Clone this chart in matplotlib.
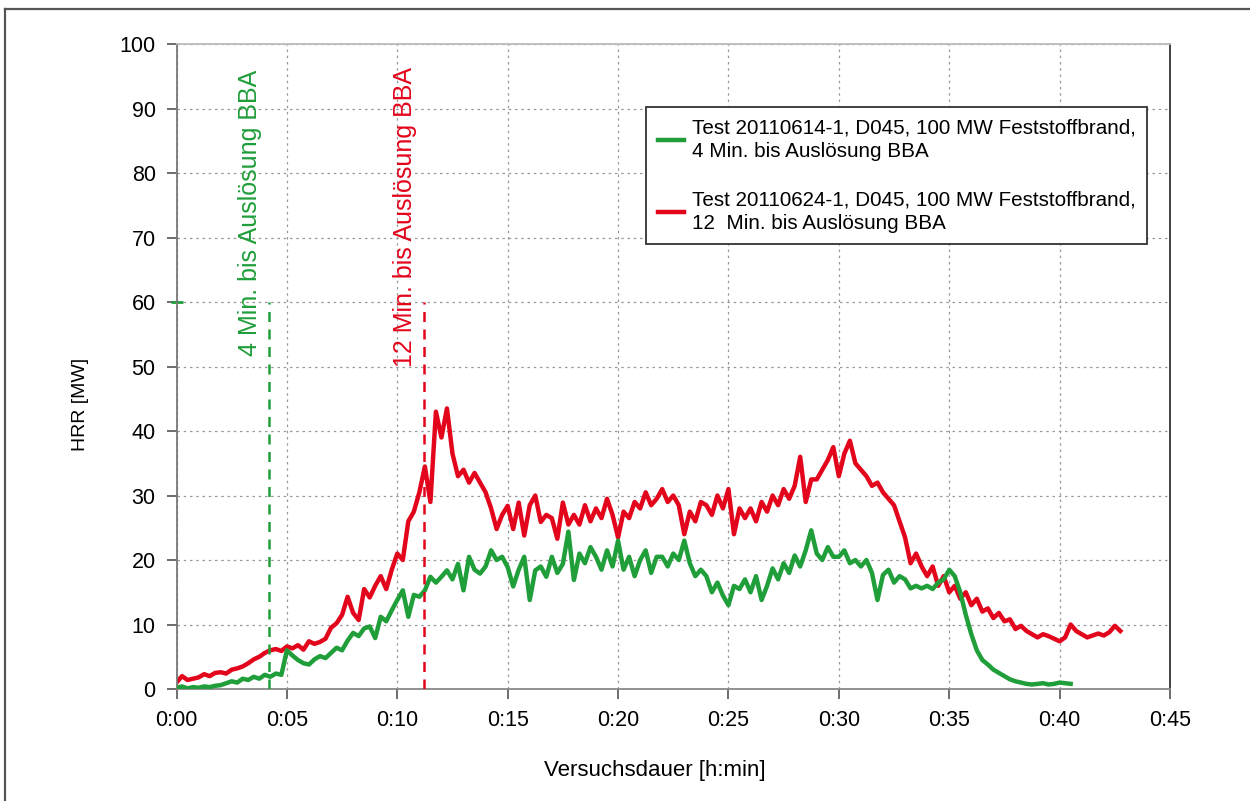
import numpy as np
import matplotlib
matplotlib.use("Agg")
import matplotlib.pyplot as plt
from matplotlib.ticker import FuncFormatter, MultipleLocator
from matplotlib.lines import Line2D

plt.rcParams["font.family"] = ["Liberation Sans", "DejaVu Sans"]

STEP_MIN = 0.25

hrr_red = [
    1.0, 2.0, 1.4, 1.6,
    1.8, 2.3, 2.0, 2.5,
    2.6, 2.4, 3.0, 3.2,
    3.5, 4.0, 4.6, 5.0,
    5.6, 6.0, 6.2, 5.9,
    6.6, 6.3, 6.8, 6.1,
    7.4, 7.0, 7.3, 7.8,
    9.5, 10.2, 11.5, 14.3,
    11.8, 10.7, 15.5, 14.2,
    16.0, 17.5, 15.5, 18.5,
    21.0, 20.0, 26.0, 27.5,
    30.5, 34.5, 29.0, 43.0,
    39.0, 43.5, 36.5, 33.0,
    34.0, 32.0, 33.5, 32.0,
    30.5, 28.0, 24.8, 27.0,
    28.4, 24.8, 28.9, 23.8,
    28.5, 30.0, 25.9, 27.0,
    26.5, 23.3, 28.9, 25.5,
    27.0, 25.5, 28.5, 26.0,
    28.0, 26.5, 29.5, 27.0,
    23.5, 27.5, 26.5, 29.0,
    28.0, 30.5, 28.5, 29.5,
    31.0, 29.0, 30.0, 28.5,
    24.0, 27.5, 26.0, 29.0,
    28.5, 27.0, 30.0, 28.0,
    31.0, 24.0, 28.0, 26.5,
    28.0, 26.0, 29.0, 27.5,
    30.0, 28.5, 31.0, 29.5,
    31.5, 36.0, 29.0, 32.5,
    32.5, 34.0, 35.5, 37.5,
    33.0, 36.5, 38.5, 35.0,
    34.0, 33.0, 31.5, 32.0,
    30.5, 29.5, 28.5, 26.0,
    23.5, 19.5, 21.0, 19.0,
    17.5, 19.0, 16.0, 17.5,
    15.0, 16.0, 14.0, 15.0,
    13.0, 14.0, 12.0, 12.5,
    11.0, 11.8, 10.5, 10.8,
    9.3, 9.8, 9.0, 8.5,
    8.0, 8.5, 8.2, 7.8,
    7.4, 8.0, 10.0, 9.0,
    8.5, 8.0, 8.3, 8.6,
    8.3, 8.8, 9.8, 9.0,
]

hrr_green = [
    0.2, 0.4, 0.1, 0.3,
    0.2, 0.4, 0.3, 0.5,
    0.6, 0.9, 1.2, 1.0,
    1.6, 1.4, 1.9, 1.6,
    2.2, 1.9, 2.4, 2.2,
    6.0, 5.2, 4.5, 4.0,
    3.8, 4.6, 5.1, 4.8,
    5.6, 6.4, 6.0, 7.5,
    8.7, 8.2, 9.4, 9.7,
    7.9, 11.2, 10.5, 12.2,
    13.8, 15.3, 11.2, 14.6,
    14.3, 15.3, 17.4, 16.5,
    17.4, 18.4, 17.0, 19.4,
    15.3, 20.5, 18.5, 17.9,
    19.0, 21.5, 20.0, 20.5,
    18.9, 15.9, 18.5, 20.5,
    13.8, 18.4, 19.0, 17.4,
    20.5, 18.0, 19.4, 24.4,
    16.9, 21.0, 19.5, 22.0,
    20.5, 18.5, 21.5, 19.0,
    23.0, 18.5, 20.5, 17.5,
    20.0, 21.5, 18.0, 20.5,
    20.5, 19.0, 21.0, 20.0,
    23.0, 19.5, 17.5, 18.5,
    17.5, 15.0, 16.5, 14.5,
    13.0, 16.0, 15.5, 17.0,
    15.0, 17.5, 13.8, 16.0,
    18.7, 17.0, 19.5, 18.0,
    20.7, 19.0, 21.5, 24.6,
    21.0, 20.0, 22.0, 20.5,
    20.5, 21.5, 19.5, 20.0,
    19.0, 20.0, 18.0, 13.8,
    17.7, 18.5, 16.5, 17.5,
    17.0, 15.6, 16.0, 15.6,
    16.0, 15.5, 16.5, 17.0,
    18.5, 17.5, 15.0, 11.5,
    8.5, 6.0, 4.5, 3.8,
    3.0, 2.5, 2.0, 1.5,
    1.2, 1.0, 0.8, 0.7,
    0.8, 0.9, 0.7, 0.8,
    1.0, 0.9, 0.8,
]

labels = [
    "Test 20110614-1, D045, 100 MW Feststoffbrand,\n4 Min. bis Auslösung BBA",
    "Test 20110624-1, D045, 100 MW Feststoffbrand,\n12  Min. bis Auslösung BBA",
]
trigger_min = [4.2, 11.22]
trigger_text = ["4 Min. bis Auslösung BBA", "12 Min. bis Auslösung BBA"]

GREEN = "#1f9e3a"
RED = "#e3051b"

t_red = np.arange(len(hrr_red)) * STEP_MIN
t_green = np.arange(len(hrr_green)) * STEP_MIN

fig = plt.figure(figsize=(12.5, 8.01), dpi=100)
ax = fig.add_axes([0.1412, 0.1398, 0.7948, 0.8052])

# outer frame (left and top edge only)
fig.add_artist(Line2D([0.004, 0.004], [0.0, 0.989], transform=fig.transFigure,
                      color="#555555", lw=1.6))
fig.add_artist(Line2D([0.004, 1.0], [0.989, 0.989], transform=fig.transFigure,
                      color="#555555", lw=1.6))

ax.plot(t_green, hrr_green, color=GREEN, lw=3.2, label=labels[0], zorder=3)
ax.plot(t_red, hrr_red, color=RED, lw=3.2, label=labels[1], zorder=2)

# trigger markers
text_pos = [(3.33, 51.6), (10.35, 50.0)]
for tm, txt, col, (tx, ty) in zip(trigger_min, trigger_text, [GREEN, RED], text_pos):
    ax.plot([tm, tm], [0, 60], color=col, lw=1.8, ls=(0, (4, 3)), zorder=4)
    ax.text(tx, ty, txt, rotation=90, color=col, fontsize=18,
            ha="center", va="bottom")
ax.plot([0], [60], marker="_", ms=9, mew=2, color=GREEN, clip_on=False)

ax.set_xlim(0, 45)
ax.set_ylim(0, 100)
ax.xaxis.set_major_locator(MultipleLocator(5))
ax.yaxis.set_major_locator(MultipleLocator(10))
ax.xaxis.set_major_formatter(FuncFormatter(lambda m, _: f"{int(m // 60)}:{int(m % 60):02d}"))
ax.tick_params(axis="both", direction="out", length=7, width=1.2, color="#555555",
               labelsize=15.5, pad=8)
ax.grid(True, color="#999999", ls=(0, (2, 3)), lw=0.9)

for side, col in [("left", "#777777"), ("bottom", "#888888"),
                  ("top", "#bbbbbb"), ("right", "#333333")]:
    ax.spines[side].set_color(col)
    ax.spines[side].set_linewidth(1.3)

ax.set_ylabel("HRR [MW]", fontsize=14)
ax.yaxis.set_label_coords(-0.088, 0.442)
ax.set_xlabel("Versuchsdauer [h:min]", fontsize=16)
ax.xaxis.set_label_coords(0.4816, -0.11)

leg = ax.legend(loc="upper right", bbox_to_anchor=(0.977, 0.902), borderaxespad=0,
                fontsize=14.9, frameon=True, fancybox=False, framealpha=1,
                edgecolor="#333333", handlelength=1.25, handletextpad=0.4,
                labelspacing=1.4, borderpad=0.55)
leg.get_frame().set_linewidth(1.3)
for txt in leg.get_texts():
    txt.set_linespacing(1.3)

fig.savefig("out.png", dpi=100)
